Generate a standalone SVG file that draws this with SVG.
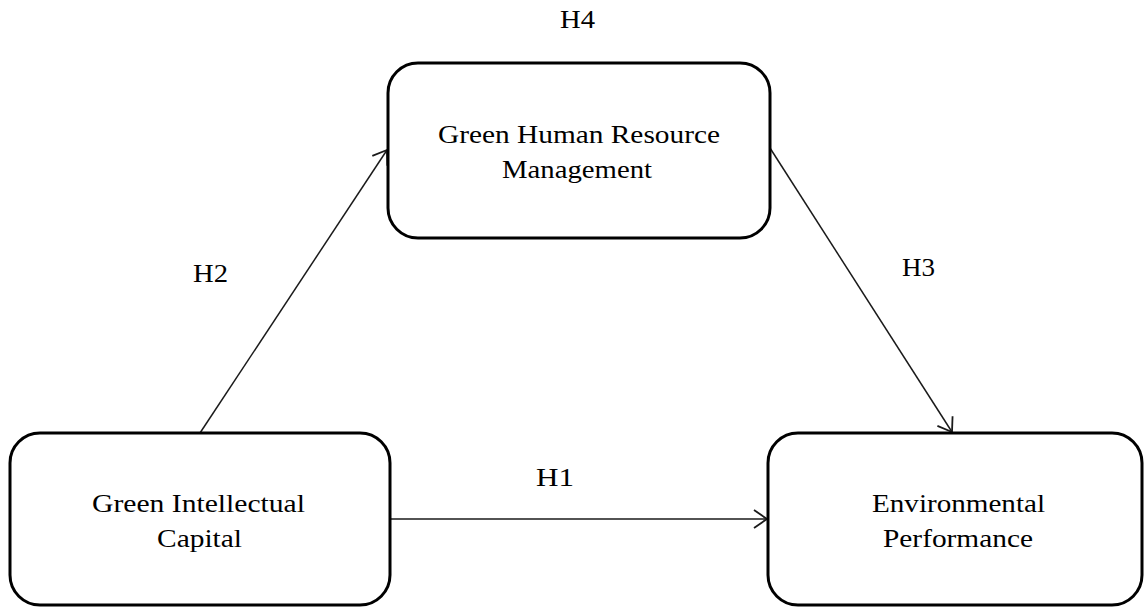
<svg xmlns="http://www.w3.org/2000/svg" width="1145" height="608" viewBox="0 0 1145 608">
  <style>
    .box { fill: #ffffff; stroke: #000000; stroke-width: 3; }
    .lbl { font-family: "Liberation Serif", "Times New Roman", serif; font-size: 25px; fill: #000000; }
    .edge { stroke: #1a1a1a; stroke-width: 1.5; fill: none; marker-end: url(#arr); }
  </style>
  <defs>
    <marker id="arr" markerUnits="userSpaceOnUse" markerWidth="30" markerHeight="30" refX="0" refY="0" viewBox="-20 -15 30 30" orient="auto">
      <path d="M-13,-9 L0,0 L-13,9" fill="none" stroke="#1a1a1a" stroke-width="1.8"/>
    </marker>
  </defs>
  <rect width="1145" height="608" fill="#ffffff"/>
  <g id="connectors">
    <line class="edge" x1="200" y1="433" x2="387" y2="150"/>
    <line class="edge" x1="770" y1="148" x2="952" y2="432"/>
    <line class="edge" x1="390" y1="519" x2="767" y2="519"/>
  </g>
  <g id="node-ghrm">
    <rect class="box" x="388" y="63" width="382" height="175" rx="30" ry="30"/>
    <text class="lbl" x="438" y="143" textLength="282" lengthAdjust="spacingAndGlyphs">Green Human Resource</text>
    <text class="lbl" x="502" y="178" textLength="150" lengthAdjust="spacingAndGlyphs">Management</text>
  </g>
  <g id="node-gic">
    <rect class="box" x="10" y="433" width="380" height="172" rx="30" ry="30"/>
    <text class="lbl" x="92" y="512" textLength="213" lengthAdjust="spacingAndGlyphs">Green Intellectual</text>
    <text class="lbl" x="157" y="547" textLength="85" lengthAdjust="spacingAndGlyphs">Capital</text>
  </g>
  <g id="node-ep">
    <rect class="box" x="768" y="433" width="374" height="172" rx="30" ry="30"/>
    <text class="lbl" x="872" y="512" textLength="173" lengthAdjust="spacingAndGlyphs">Environmental</text>
    <text class="lbl" x="883" y="547" textLength="150" lengthAdjust="spacingAndGlyphs">Performance</text>
  </g>
  <g id="labels">
    <text class="lbl" x="560" y="28" textLength="35" lengthAdjust="spacingAndGlyphs">H4</text>
    <text class="lbl" x="193" y="282" textLength="35" lengthAdjust="spacingAndGlyphs">H2</text>
    <text class="lbl" x="902" y="276" textLength="33" lengthAdjust="spacingAndGlyphs">H3</text>
    <text class="lbl" x="536" y="486" textLength="38" lengthAdjust="spacingAndGlyphs">H1</text>
  </g>
</svg>
